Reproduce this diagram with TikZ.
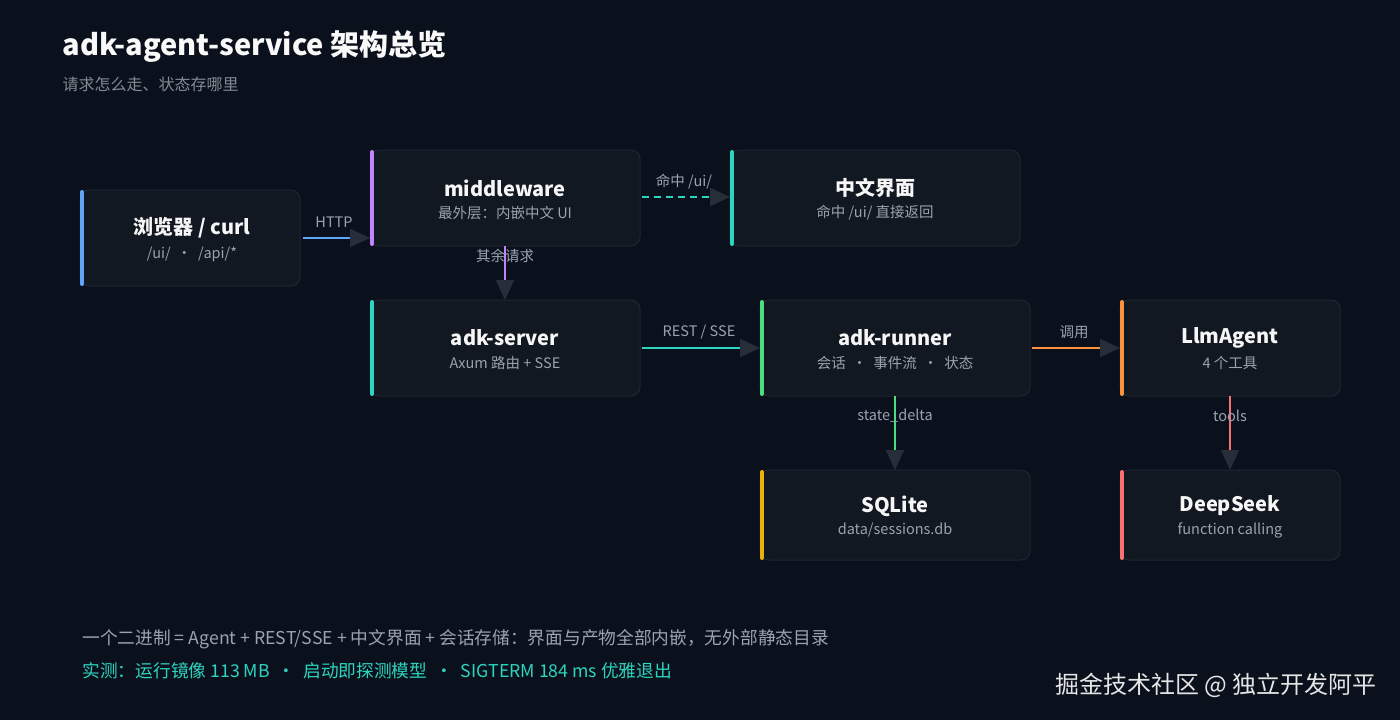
\documentclass[tikz,border=0pt]{standalone}
\usepackage{fontspec}
\setmainfont{Noto Sans CJK SC}
\usetikzlibrary{arrows.meta}
\definecolor{bg}{HTML}{0B111C}
\definecolor{boxf}{HTML}{111821}
\definecolor{boxd}{HTML}{1E2631}
\definecolor{tip}{HTML}{262E39}
\definecolor{sub}{HTML}{9AA3AE}
\definecolor{cblue}{HTML}{60A5FA}
\definecolor{cpurp}{HTML}{C084FC}
\definecolor{cteal}{HTML}{2DD4BF}
\definecolor{cgreen}{HTML}{4ADE80}
\definecolor{corange}{HTML}{FB923C}
\definecolor{cyellow}{HTML}{EAB308}
\definecolor{cred}{HTML}{F87171}
\tikzset{
  box/.style={draw=boxd,fill=boxf,rounded corners=9pt,line width=1pt},
  ttl/.style={font=\fontsize{20}{22}\selectfont\bfseries,text=white!93!gray},
  st/.style={font=\fontsize{14.5}{16}\selectfont,text=sub},
  lbl/.style={font=\fontsize{14.5}{16}\selectfont,text=sub},
  conn/.style={line width=2pt,-{Triangle[length=20pt,width=18pt,color=tip]}},
}
\newcommand{\mybox}[7]{% name, x1,y1,x2,y2, color, title/sub
  \draw[box] (#2,#3) rectangle (#4,#5);
  \draw[#6,line width=4pt,line cap=round] (#2+2,#3+2) -- (#2+2,#5-2);
  \coordinate (#1-w) at (#2,{(#3+#5)/2});
  \coordinate (#1-e) at (#4,{(#3+#5)/2});
  \coordinate (#1-n) at ({(#2+#4)/2},#3);
  \coordinate (#1-s) at ({(#2+#4)/2},#5);
  #7
}
\begin{document}
\begin{tikzpicture}[x=1pt,y=-1pt]
\fill[bg] (0,0) rectangle (1400,720);
\useasboundingbox (0,0) rectangle (1400,720);
\node[anchor=west,font=\fontsize{29}{32}\selectfont\bfseries,text=white!95!gray] (title) at (59,47) {adk-agent-service 架构总览};
\node[anchor=west,font=\fontsize{16}{18}\selectfont,text=sub!85!black] (subt) at (59,84) {请求怎么走、状态存哪里};

\mybox{br}{80}{190}{300}{286}{cblue}{
  \node[ttl] (brt) at (192,228) {浏览器 / curl};
  \node[st] (brs) at (192,254) {/ui/ \ · \ /api/*};}
\mybox{mw}{370}{150}{640}{246}{cpurp}{
  \node[ttl] (mwt) at (505,188) {middleware};
  \node[st] (mws) at (505,213) {最外层：内嵌中文 UI};}
\mybox{ui}{730}{150}{1020}{246}{cteal}{
  \node[ttl] (uit) at (875,188) {中文界面};
  \node[st] (uis) at (875,213) {命中 /ui/ 直接返回};}
\mybox{sv}{370}{300}{640}{396}{cteal}{
  \node[ttl] (svt) at (505,338) {adk-server};
  \node[st] (svs) at (505,363) {Axum 路由 + SSE};}
\mybox{rn}{760}{300}{1030}{396}{cgreen}{
  \node[ttl] (rnt) at (895,338) {adk-runner};
  \node[st] (rns) at (895,363) {会话 \ · \ 事件流 \ · \ 状态};}
\mybox{ag}{1120}{300}{1340}{396}{corange}{
  \node[ttl] (agt) at (1230,338) {LlmAgent};
  \node[st] (ags) at (1230,363) {4 个工具};}
\mybox{db}{760}{470}{1030}{560}{cyellow}{
  \node[ttl] (dbt) at (895,506) {SQLite};
  \node[st] (dbs) at (895,530) {data/sessions.db};}
\mybox{ds}{1120}{470}{1340}{560}{cred}{
  \node[ttl] (dst) at (1230,506) {DeepSeek};
  \node[st] (dss) at (1230,530) {function calling};}

\draw[conn,cblue] ([xshift=3pt]br-e) -- (br-e -| mw-w);
\node[lbl] (l1) at (334,222) {HTTP};
\draw[conn,cteal,dash pattern=on 7pt off 5pt] ([xshift=2pt]mw-e |- 0,197) -- (ui-w |- 0,197);
\node[lbl] (l2) at (684,182) {命中 /ui/};
\draw[conn,cpurp] (mw-s) -- (sv-n);
\node[lbl] (l3) at (505,256) {其余请求};
\draw[conn,cteal] ([xshift=2pt]sv-e) -- (rn-w);
\node[lbl] (l4) at (699,332) {REST / SSE};
\draw[conn,corange] ([xshift=2pt]rn-e) -- (ag-w);
\node[lbl] (l5) at (1074,332) {调用};
\draw[conn,cgreen] (rn-s) -- (db-n);
\node[lbl] (l6) at (895,416) {state\_delta};
\draw[conn,cred] (ag-s) -- (ds-n);
\node[lbl] (l7) at (1230,416) {tools};

\node[anchor=west,font=\fontsize{17.7}{20}\selectfont,text=sub] (f1) at (79,639) {一个二进制 = Agent + REST/SSE + 中文界面 + 会话存储：界面与产物全部内嵌，无外部静态目录};
\node[anchor=west,font=\fontsize{17.7}{20}\selectfont,text=cteal] (f2) at (79,671) {实测：运行镜像 113 MB \ · \ 启动即探测模型 \ · \ SIGTERM 184 ms 优雅退出};
\node[anchor=east,font=\fontsize{24}{26}\selectfont,text=white!80!gray] (wm) at (1380,685) {掘金技术社区 @ 独立开发阿平};
\end{tikzpicture}
\end{document}
